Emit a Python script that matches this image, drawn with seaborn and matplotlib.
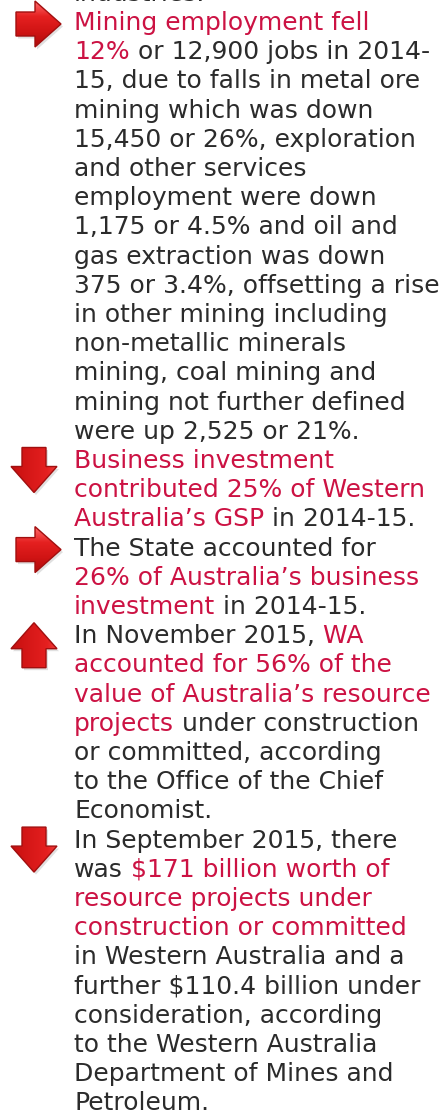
# -*- coding: utf-8 -*-

### WA economy notes - arrow bullet panel ###

import numpy as np
import matplotlib.pyplot as plt
import seaborn as sns
from matplotlib.patches import Polygon
from matplotlib.colors import LinearSegmentedColormap

sns.set_style("white")
plt.rcParams['font.family'] = ['DejaVu Sans']

## Data ##
# each line is a list of (text, highlighted) pieces
lead_in = [[("industries.", False)]]

mining = [
    [("Mining employment fell", True)],
    [("12%", True), (" or 12,900 jobs in 2014-", False)],
    [("15, due to falls in metal ore", False)],
    [("mining which was down", False)],
    [("15,450 or 26%, exploration", False)],
    [("and other services", False)],
    [("employment were down", False)],
    [("1,175 or 4.5% and oil and", False)],
    [("gas extraction was down", False)],
    [("375 or 3.4%, offsetting a rise", False)],
    [("in other mining including", False)],
    [("non-metallic minerals", False)],
    [("mining, coal mining and", False)],
    [("mining not further defined", False)],
    [("were up 2,525 or 21%.", False)],
]

business = [
    [("Business investment", True)],
    [("contributed 25% of Western", True)],
    [("Australia\u2019s GSP", True), (" in 2014-15.", False)],
]

state_share = [
    [("The State accounted for", False)],
    [("26% of Australia\u2019s business", True)],
    [("investment", True), (" in 2014-15.", False)],
]

projects_nov = [
    [("In November 2015,", False), (" WA", True)],
    [("accounted for 56% of the", True)],
    [("value of Australia\u2019s resource", True)],
    [("projects", True), (" under construction", False)],
    [("or committed, according", False)],
    [("to the Office of the Chief", False)],
    [("Economist.", False)],
]

projects_sep = [
    [("In September 2015, there", False)],
    [("was", False), (" $171 billion worth of", True)],
    [("resource projects under", True)],
    [("construction or committed", True)],
    [("in Western Australia and a", False)],
    [("further $110.4 billion under", False)],
    [("consideration, according", False)],
    [("to the Western Australia", False)],
    [("Department of Mines and", False)],
    [("Petroleum.", False)],
]

paragraphs = [mining, business, state_share, projects_nov, projects_sep]
arrow_dirs = ["right", "down", "right", "up", "down"]

## Style ##
RED = "#cc1243"
GREY = "#2b2b2b"
FS = 18
TEXT_X = 74
LINE_H = 29.2
FIRST_BASE = 0.8

arrow_cmap = LinearSegmentedColormap.from_list(
    "arrow", ["#ff6b6b", "#e52020", "#d01414", "#b00b0b"])


def draw_line(ax, y, pieces):
    prev = None
    for txt, hl in pieces:
        col = RED if hl else GREY
        if prev is None:
            prev = ax.text(TEXT_X, y, txt, color=col, fontsize=FS,
                           ha='left', va='baseline', parse_math=False)
        else:
            prev = ax.annotate(txt, xy=(1, 0), xycoords=prev, color=col,
                               fontsize=FS, ha='left', va='bottom',
                               parse_math=False)


def arrow_points(cx, cy, direction, L=45, W=46, s=24, h=26):
    pts = [(-L / 2, -s / 2), (L / 2 - h, -s / 2), (L / 2 - h, -W / 2),
           (L / 2, 0), (L / 2 - h, W / 2), (L / 2 - h, s / 2), (-L / 2, s / 2)]
    if direction == "down":
        pts = [(-y, x) for x, y in pts]
    elif direction == "up":
        pts = [(y, -x) for x, y in pts]
    return [(cx + x, cy + y) for x, y in pts]


def draw_arrow(ax, cx, cy, direction):
    # soft shadow, gradient body, outline
    ax.add_patch(Polygon(arrow_points(cx + 2, cy + 2.5, direction),
                         closed=True, fc="#000000", ec="none", alpha=0.12))
    pts = np.array(arrow_points(cx, cy, direction))
    body = Polygon(pts, closed=True, fc="none", ec="#a10f0f", lw=1.0, zorder=3)
    ax.add_patch(body)
    grad = np.linspace(0, 1, 64).reshape(-1, 1)
    if direction != "right":
        grad = np.linspace(0, 1, 64).reshape(1, -1)[:, ::-1] * 0.6 + 0.2
    im = ax.imshow(grad, cmap=arrow_cmap, vmin=0, vmax=1, aspect='auto',
                   origin='upper', zorder=2,
                   extent=(pts[:, 0].min(), pts[:, 0].max(),
                           pts[:, 1].max(), pts[:, 1].min()))
    im.set_clip_path(body)


fig = plt.figure(figsize=(4.44, 11.17), dpi=100)
ax = fig.add_axes([0, 0, 1, 1])

# intro line cut off at the top
y = FIRST_BASE
for line in lead_in:
    draw_line(ax, y, line)
    y += LINE_H

for para, direction in zip(paragraphs, arrow_dirs):
    if direction == "right":
        draw_arrow(ax, 38.5, y - 6, direction)
    else:
        draw_arrow(ax, 34, y + 2, direction)
    for line in para:
        draw_line(ax, y, line)
        y += LINE_H

ax.set_xlim(0, 444)
ax.set_ylim(1117, 0)
ax.axis('off')

plt.savefig("out.png", dpi=100)
